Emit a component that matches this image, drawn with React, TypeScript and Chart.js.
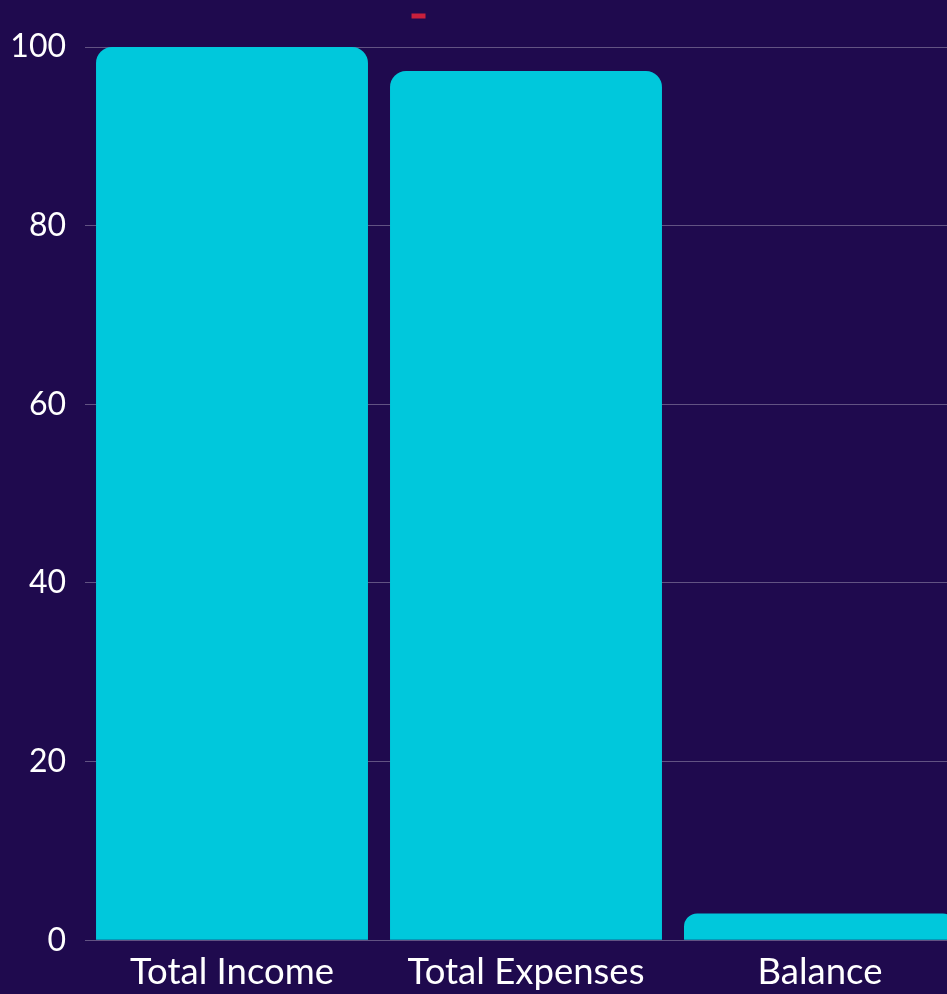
import React, { useEffect, useRef } from 'react';
import { Chart, registerables } from 'chart.js';

Chart.register(...registerables);

const categories = ['Total Income', 'Total Expenses', 'Balance'];
const amounts = [100, 97.3, 3];
const yTickValues = [0, 20, 40, 60, 80, 100];

const BG = '#1f0a4e';
const BAR = '#00c8dc';
const LEGEND_RED = '#c8203c';
const FONT = 'Lato';

const legendSpacer = {
  id: 'legendSpacer',
  beforeInit(chart: any) {
    const legend = chart.legend;
    if (!legend) return;
    const origFit = legend.fit;
    legend.fit = function () {
      origFit.call(this);
      this.height += 15;
    };
  },
};

const bgPlugin = {
  id: 'bgFill',
  beforeDraw(chart: any) {
    const { ctx, width, height } = chart;
    ctx.save();
    ctx.fillStyle = BG;
    ctx.fillRect(0, 0, width, height);
    ctx.restore();
  },
};

export default function App() {
  const ref = useRef<HTMLCanvasElement | null>(null);

  useEffect(() => {
    if (!ref.current) return;
    const chart = new Chart(ref.current, {
      type: 'bar',
      data: {
        labels: categories,
        datasets: [
          {
            label: '',
            data: amounts,
            backgroundColor: BAR,
            borderWidth: 0,
            borderRadius: 16,
            barPercentage: 0.925,
            categoryPercentage: 1,
          },
        ],
      },
      options: {
        responsive: false,
        animation: false,
        layout: { padding: 0 },
        plugins: {
          legend: {
            display: true,
            position: 'top',
            labels: {
              boxWidth: 14,
              boxHeight: 5,
              font: { family: 'DejaVu Sans', size: 12 },
              color: 'rgba(0,0,0,0)',
              generateLabels: () => [
                {
                  text: '\u2003'.repeat(10) + '\u2004',
                  fillStyle: LEGEND_RED,
                  strokeStyle: LEGEND_RED,
                  lineWidth: 0,
                  hidden: false,
                  datasetIndex: 0,
                } as any,
              ],
            },
          },
          tooltip: { enabled: false },
        },
        scales: {
          x: {
            grid: { display: false, drawTicks: false },
            border: { display: false },
            ticks: {
              color: '#ffffff',
              font: { family: FONT, size: 36.5 },
              padding: 10,
              maxRotation: 0,
            },
          },
          y: {
            min: 0,
            max: 100,
            afterBuildTicks: (scale: any) => {
              scale.ticks = yTickValues.map((v) => ({ value: v }));
            },
            afterFit: (scale: any) => {
              scale.width = 85;
            },
            grid: {
              color: 'rgba(255,255,255,0.3)',
              drawTicks: false,
              lineWidth: 1,
            },
            border: { display: false },
            ticks: {
              color: '#ffffff',
              font: { family: FONT, size: 32 },
              padding: 19,
            },
          },
        },
      },
      plugins: [legendSpacer, bgPlugin],
    });
    return () => chart.destroy();
  }, []);

  return (
    <div style={{ position: 'absolute', left: 0, top: 0, width: 967, height: 1004, background: BG }}>
      <canvas ref={ref} width={967} height={1004} style={{ display: 'block' }} />
    </div>
  );
}
